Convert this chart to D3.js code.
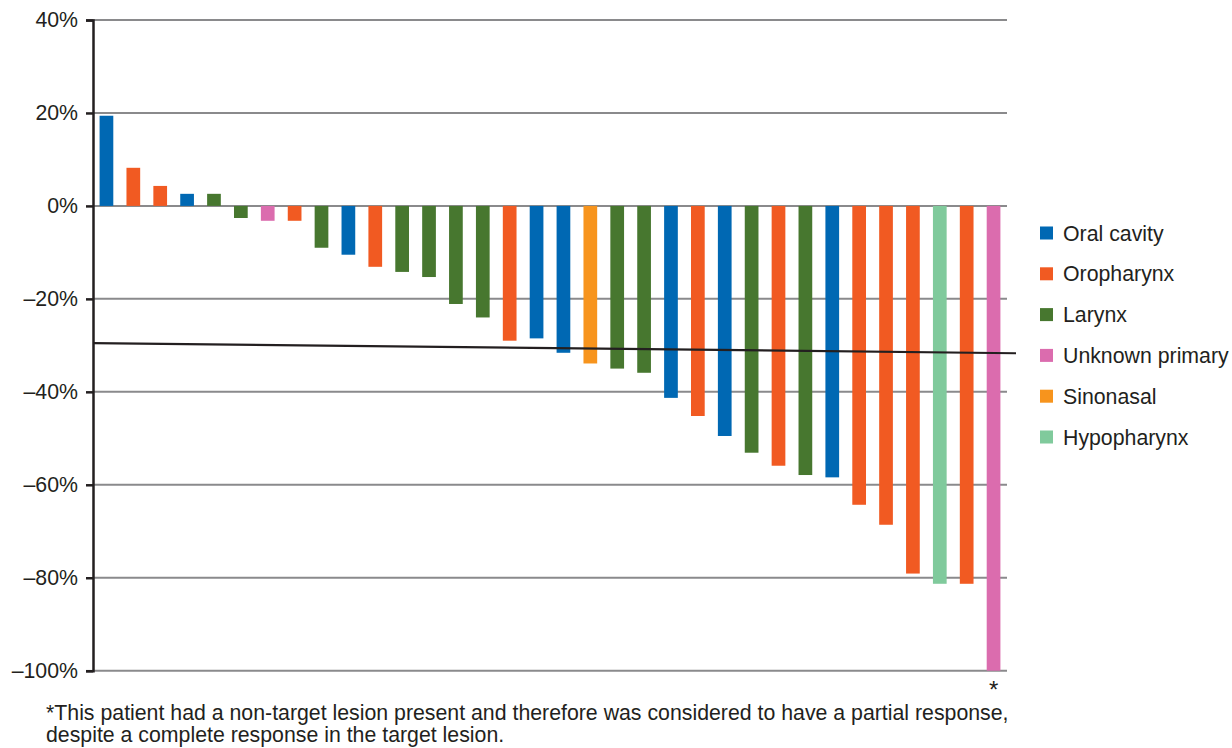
<!DOCTYPE html>
<html><head><meta charset="utf-8">
<script src="https://cdn.jsdelivr.net/npm/d3@7"></script>
<style>body{margin:0;background:#fff}svg{display:block;font-family:"Liberation Sans",Arial,sans-serif}</style>
</head><body><svg id="c" width="1232" height="748"></svg>
<script>
const categories = ["Oral cavity","Oropharynx","Larynx","Unknown primary","Sinonasal","Hypopharynx"];
const colors = ["#0068b3","#f15a22","#47772f","#db6cae","#f7941d","#80ca9c"];
const patientSite = [0,1,1,0,2,2,3,1,2,0,1,2,2,2,2,1,0,0,4,2,2,0,1,0,2,1,2,0,1,1,1,5,1,3];
const changeValues = [19.4,8.2,4.3,2.6,2.6,-2.6,-3.2,-3.2,-9.0,-10.5,-13.1,-14.2,-15.3,-21.1,-24.0,-29.0,-28.5,-31.6,-33.9,-35.0,-35.9,-41.3,-45.2,-49.5,-53.1,-55.9,-57.9,-58.4,-64.3,-68.6,-79.1,-81.3,-81.3,-100];
const yTicks = [40,20,0,-20,-40,-60,-80,-100];
const refLine = [-29.5,-31.7];
const footnote = ["*This patient had a non-target lesion present and therefore was considered to have a partial response,","despite a complete response in the target lesion."];

const FS = 21.3;
const svg = d3.select("#c");
const x = d3.scaleBand().domain(d3.range(changeValues.length)).range([93,1007]).paddingInner(0.49).paddingOuter(0.245);
const y = d3.scaleLinear().domain([-100,40]).range([670.7,20]);
const fmt = v => (v<0?"\u2013"+(-v):v)+"%";

// gridlines
svg.append("g").selectAll("line").data(yTicks).join("line")
  .attr("x1",93).attr("x2",1007).attr("y1",d=>y(d)).attr("y2",d=>y(d))
  .attr("stroke","#8a8a8c").attr("stroke-width",2);

// bars
svg.append("g").selectAll("rect").data(changeValues).join("rect")
  .attr("x",(d,i)=>x(i)).attr("width",x.bandwidth())
  .attr("y",d=>y(Math.max(0,d))).attr("height",d=>Math.abs(y(d)-y(0)))
  .attr("fill",(d,i)=>colors[patientSite[i]]);

// axis
const ax = svg.append("g").attr("transform","translate(93,0)")
  .call(d3.axisLeft(y).tickValues(yTicks).tickFormat(fmt).tickSize(7).tickPadding(8));
ax.select(".domain").attr("stroke","#231f20").attr("stroke-width",2.5);
ax.selectAll(".tick line").attr("stroke","#231f20").attr("stroke-width",2.5);
ax.selectAll(".tick text").attr("fill","#231f20").attr("font-size",FS).attr("font-family","Liberation Sans, Arial, sans-serif");

// reference line
svg.append("line").attr("x1",x.range()[0]).attr("x2",x.range()[1]+9)
  .attr("y1",y(refLine[0])).attr("y2",y(refLine[1]))
  .attr("stroke","#231f20").attr("stroke-width",2.2);

// asterisk
const last = changeValues.length-1;
svg.append("text").attr("x",x(last)+x.bandwidth()/2).attr("y",y(-100)+27)
  .attr("text-anchor","middle").attr("font-size",24).attr("fill","#231f20").text("*");

// legend
const lg = svg.append("g").selectAll("g").data(categories).join("g")
  .attr("transform",(d,i)=>`translate(1040,${233+i*40.8})`);
lg.append("rect").attr("x",0).attr("y",-6.5).attr("width",13).attr("height",13).attr("fill",(d,i)=>colors[i]);
lg.append("text").attr("x",23).attr("y",7.5).attr("font-size",FS).attr("fill","#231f20").text(d=>d);

// footnote
svg.append("g").selectAll("text").data(footnote).join("text")
  .attr("x",46).attr("y",(d,i)=>719.5+i*22.5).attr("font-size",FS).attr("fill","#231f20").text(d=>d);
</script></body></html>
